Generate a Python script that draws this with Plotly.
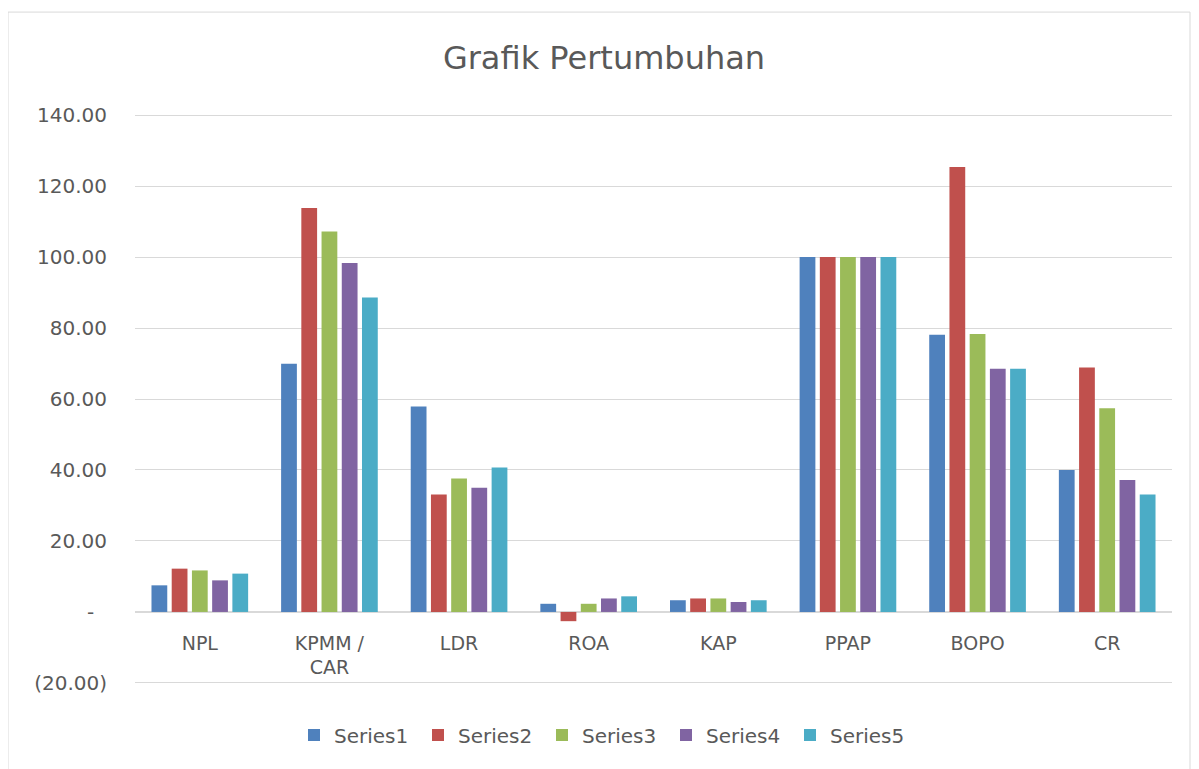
import plotly.graph_objects as go

categories = ["NPL", "KPMM /<br>CAR", "LDR", "ROA", "KAP", "PPAP", "BOPO", "CR"]
series_names = ["Series1", "Series2", "Series3", "Series4", "Series5"]
series1 = [7.5, 69.9, 57.9, 2.3, 3.3, 100.0, 78.1, 40.0]
series2 = [12.2, 113.8, 33.1, -2.6, 3.8, 100.0, 125.4, 68.9]
series3 = [11.7, 107.2, 37.6, 2.3, 3.8, 100.0, 78.3, 57.4]
series4 = [8.9, 98.3, 35.0, 3.8, 2.8, 100.0, 68.5, 37.2]
series5 = [10.8, 88.6, 40.7, 4.4, 3.3, 100.0, 68.5, 33.1]
colors = ["#4F81BD", "#C0504D", "#9BBB59", "#8064A2", "#4BACC6"]
y_tickvals = [-20, 0, 20, 40, 60, 80, 100, 120, 140]
y_ticktext = ["(20.00)", "-\u00a0\u00a0", "20.00", "40.00", "60.00", "80.00", "100.00", "120.00", "140.00"]

FONT = "DejaVu Sans"
GRAY = "#595959"
GRID = "#D9D9D9"

fig = go.Figure()
for name, vals, col in zip(series_names, [series1, series2, series3, series4, series5], colors):
    fig.add_trace(go.Bar(name=name, x=categories, y=vals, marker=dict(color=col, line=dict(width=0))))

# page body has an 8px margin; work in screenshot pixels and shift
O = 8
W, H = 1199 - O, 769 - O
# plot area in screenshot pixels: x 135..1172, y 114..684 (range padded slightly so edge gridlines show)
YMIN, YMAX = -20.3, 140.3
PL, PR = 135, 1172
PPU = (683 - 115) / 160.0
PT = 115 - (YMAX - 140) * PPU
PB = 683 + (-20 - YMIN) * PPU
L, R = PL - O, W - (PR - O)
T, B = PT - O, H - (PB - O)
pw, ph = W - L - R, H - T - B

def px_x(px):
    return (px - O - L) / pw

def px_y(py):
    return (H - B - (py - O)) / ph

fig.update_layout(
    width=W, height=H,
    margin=dict(l=L, r=R, t=T, b=B, autoexpand=False),
    paper_bgcolor="white", plot_bgcolor="white",
    barmode="group", bargap=0.22, bargroupgap=0.22,
    font=dict(family=FONT, color=GRAY),
    title=dict(text="Grafik Pertumbuhan", font=dict(family=FONT, size=32, color=GRAY),
               x=px_x(604), xref="paper", xanchor="center",
               y=(H - (58 - O)) / H, yref="container", yanchor="middle"),
    xaxis=dict(anchor="free", position=(0 - YMIN) / (YMAX - YMIN), showline=True, linecolor=GRID,
               linewidth=1, showgrid=False, ticks="", tickfont=dict(size=19, color=GRAY),
               layer="below traces", ticklabelstandoff=14),
    yaxis=dict(range=[YMIN, YMAX], tickvals=y_tickvals, ticktext=y_ticktext, showgrid=True,
               gridcolor=GRID, gridwidth=1, zeroline=True, zerolinecolor=GRID, zerolinewidth=1,
               showline=False, ticks="", tickfont=dict(size=20, color=GRAY), ticklabelstandoff=27),
    legend=dict(orientation="h", x=px_x(294), xanchor="left", y=px_y(735), yanchor="middle",
                font=dict(size=20, color=GRAY), entrywidth=79, entrywidthmode="pixels",
                bgcolor="rgba(0,0,0,0)"),
    showlegend=True,
)

fig.add_shape(type="rect", xref="paper", yref="paper",
              x0=px_x(8), x1=px_x(1190), y0=px_y(800), y1=px_y(12),
              line=dict(color=GRID, width=1), fillcolor="rgba(0,0,0,0)", layer="below")

fig.write_html("out.html")
